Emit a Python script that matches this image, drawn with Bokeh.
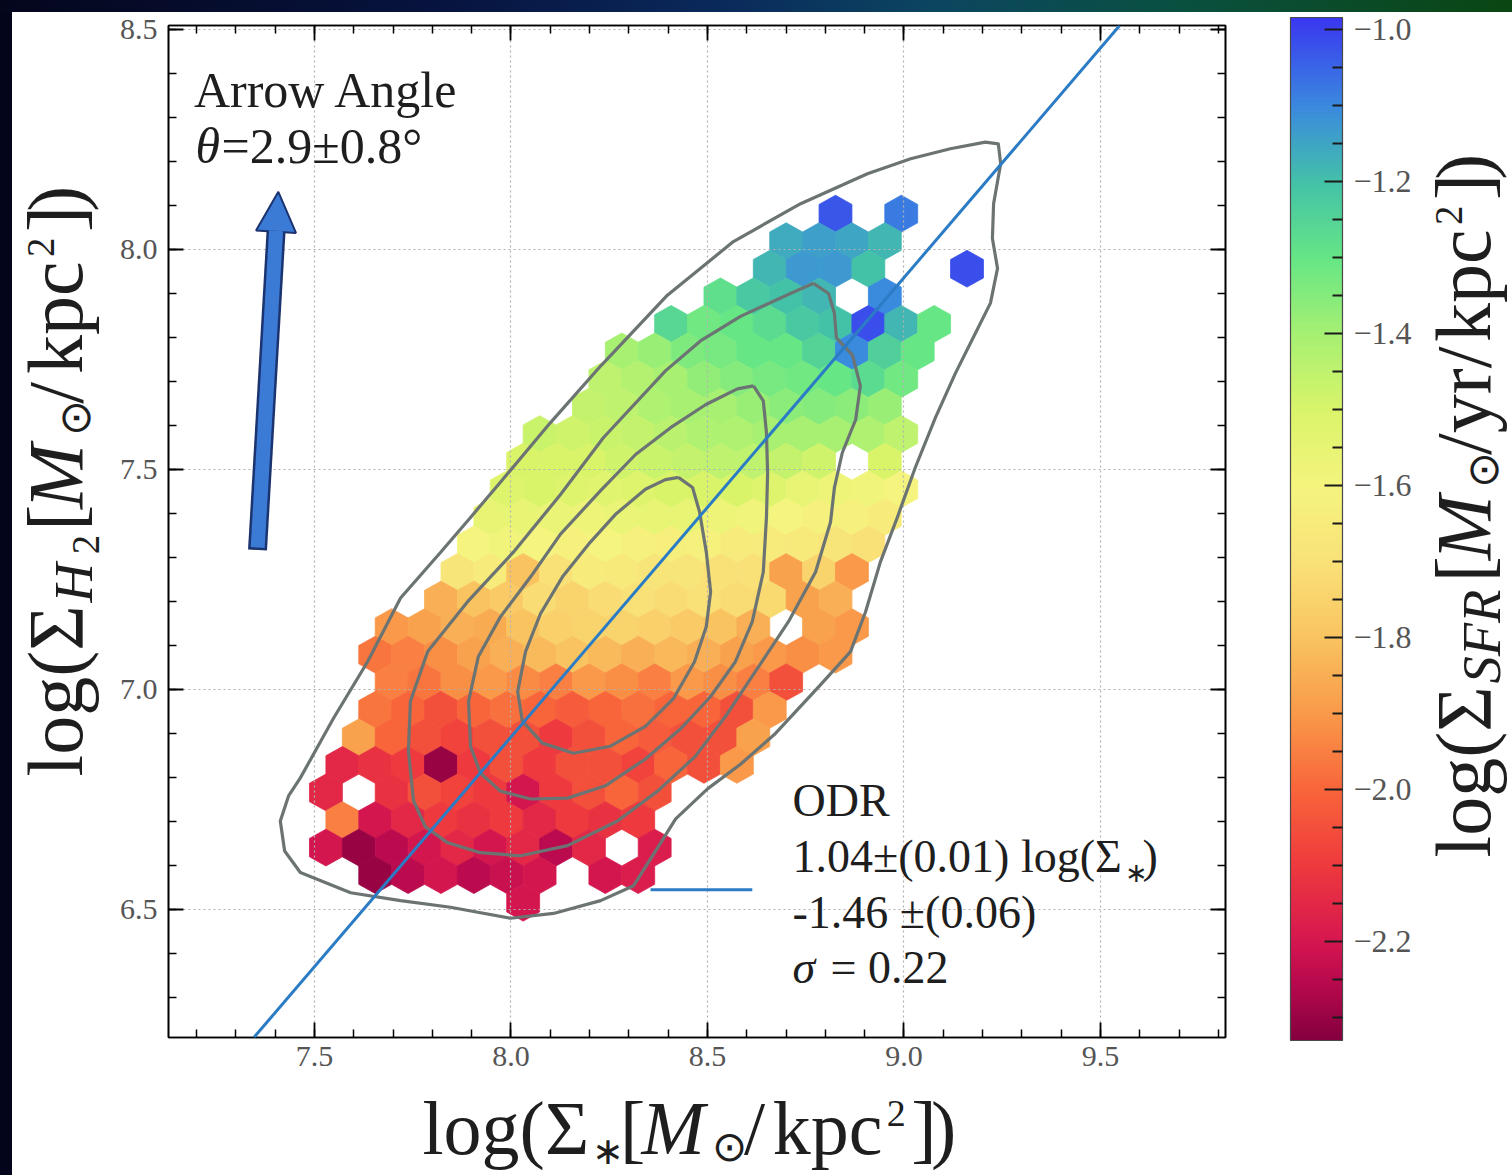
import numpy as np
from bokeh.plotting import figure
from bokeh.models import (Range1d, LinearAxis, SingleIntervalTicker, FixedTicker, ColorBar,
                          LinearColorMapper, Label, Arrow, NormalHead, Slope, Div,
                          ColumnDataSource, PrintfTickFormatter, CustomJSTickFormatter)
from bokeh.layouts import column, row
from bokeh.transform import linear_cmap
from bokeh.embed import file_html
from bokeh.resources import INLINE

# ---------------------------------------------------------------- axes
X_RANGE = (7.1285, 9.8181)          # log Sigma_* extent
Y_RANGE = (6.209, 8.509)            # log Sigma_H2 extent
MAJOR_STEP = 0.5

# ---------------------------------------------------------------- colour scale (log Sigma_SFR)
CB_LOW, CB_HIGH = -2.33, -0.984
CB_TICKS = [-2.2, -2.0, -1.8, -1.6, -1.4, -1.2, -1.0]
CB_MINOR = [-2.3, -2.25, -2.15, -2.1, -2.05, -1.95, -1.9, -1.85, -1.75, -1.7, -1.65,
            -1.55, -1.5, -1.45, -1.35, -1.3, -1.25, -1.15, -1.1, -1.05]
CMAP_STOPS = [(-2.33, "#86003f"), (-2.25, "#bc0a4e"), (-2.2, "#d6174f"), (-2.1, "#ef3a3d"),
              (-2.0, "#f8663a"), (-1.9, "#f99a49"), (-1.8, "#f9c460"), (-1.7, "#f9e278"),
              (-1.6, "#f5f47e"), (-1.5, "#daf46a"), (-1.4, "#a6f072"), (-1.3, "#66e685"),
              (-1.2, "#44c2a8"), (-1.1, "#3a8ade"), (-0.984, "#3a38f0")]

# ---------------------------------------------------------------- ODR fit
ODR_SLOPE, ODR_SLOPE_ERR = 1.044, 0.01
ODR_INTERCEPT, ODR_INTERCEPT_ERR = -1.46, 0.06
ODR_SCATTER = 0.22
ODR_HANDLE_X = [8.355, 8.614]
ODR_HANDLE_Y = [6.545, 6.545]

# ---------------------------------------------------------------- mean gradient arrow
ARROW_THETA, ARROW_THETA_ERR = 2.9, 0.8
ARROW_TAIL = (7.355, 7.317)
ARROW_TIP = (7.408, 8.131)

# ---------------------------------------------------------------- hexbin map of mean log Sigma_SFR
HEX_ROW_STEP = 0.062647     # vertical distance between hex rows
HEX_COL_STEP = 0.083656     # hex width (flat to flat)
HEX_TOP_ROW = 129           # axial row of the first listed row
# (row from top, first column, mean log Sigma_SFR per cell; None = empty cell)
HEX_ROWS = [
    (0, 105, [-1.03, None, -1.08]),
    (1, 104, [-1.16, -1.14, -1.15, -1.18]),
    (2, 103, [-1.18, -1.13, -1.13, -1.20, None, None, -1.02]),
    (3, 102, [-1.28, -1.22, -1.20, -1.18, None, -1.10]),
    (4, 100, [-1.26, -1.32, -1.30, -1.27, -1.22, -1.20, -1.02, -1.18, -1.30]),
    (5, 99, [-1.40, -1.38, -1.34, -1.33, -1.30, -1.30, -1.25, -1.10, -1.24, -1.30]),
    (6, 98, [-1.45, -1.43, -1.40, -1.37, -1.35, -1.33, -1.32, -1.30, -1.27, -1.32]),
    (7, 98, [-1.46, -1.45, -1.42, -1.40, -1.40, -1.38, -1.36, -1.35, -1.36, -1.38]),
    (8, 96, [-1.47, -1.48, -1.47, -1.46, -1.44, -1.42, -1.42, -1.40, -1.40, -1.40, -1.42, -1.45]),
    (9, 96, [-1.50, -1.50, -1.50, -1.48, -1.47, -1.46, -1.45, -1.45, -1.46, -1.48, None, -1.50]),
    (10, 95, [-1.52, -1.50, -1.52, -1.53, -1.52, -1.50, -1.50, -1.50, -1.52, -1.55, -1.57, -1.58, -1.60]),
    (11, 95, [-1.55, -1.55, -1.56, -1.57, -1.56, -1.55, -1.55, -1.57, -1.58, -1.60, -1.62, -1.62, -1.65]),
    (12, 94, [-1.60, -1.58, -1.60, -1.62, -1.60, -1.62, -1.63, -1.62, -1.65, -1.65, -1.66, -1.68, -1.70]),
    (13, 94, [-1.68, -1.65, -1.80, -1.70, -1.65, -1.66, -1.68, -1.68, -1.70, -1.70, -1.88, -1.75, -1.90]),
    (14, 93, [-1.85, -1.80, -1.78, -1.72, -1.75, -1.72, -1.70, -1.72, -1.70, -1.72, -1.73, -1.88, -1.85]),
    (15, 92, [-1.90, -1.88, -1.85, -1.86, -1.80, -1.76, -1.75, -1.75, -1.76, -1.78, -1.80, -1.85, None, -1.88, -1.90]),
    (16, 91, [-1.97, -1.95, -1.92, -1.88, -1.85, -1.82, -1.80, -1.82, -1.85, -1.83, -1.85, -1.88, -1.90, -1.92, -1.90]),
    (17, 92, [-1.95, -1.97, -1.92, -1.90, -1.93, -1.95, -1.90, -1.92, -1.95, -1.90, -1.92, -1.95, -2.05]),
    (18, 91, [-1.97, -2.00, -2.05, -2.00, -1.98, -2.00, -2.02, -2.00, -1.98, -2.00, -2.00, -2.05, -1.90]),
    (19, 91, [-1.88, -2.00, -2.05, -2.08, -2.05, -2.05, -2.10, -2.05, -2.00, -2.02, -2.05, -2.05, -1.88]),
    (20, 90, [-2.15, -2.12, -2.10, -2.30, -2.10, -2.05, -2.10, -2.05, -2.05, -2.08, -2.00, -2.05, -1.90]),
    (21, 90, [-2.15, None, -2.12, -2.05, -2.08, -2.10, -2.20, -2.10, -2.05, -2.00, -2.05]),
    (22, 90, [-1.95, -2.20, -2.15, -2.10, -2.12, -2.10, -2.15, -2.10, -2.12, -2.10]),
    (23, 90, [-2.20, -2.30, -2.25, -2.20, -2.15, -2.20, -2.15, -2.25, -2.15, None, -2.18]),
    (24, 91, [-2.30, -2.25, -2.20, -2.25, -2.22, -2.20, None, -2.20, -2.18]),
    (25, 96, [-2.20]),
]

# ---------------------------------------------------------------- density contours
CONTOUR_1_X = [7.821, 7.897, 7.973, 8.100, 8.228, 8.398, 8.566, 8.737, 8.907, 9.017, 9.118, 9.207,
               9.240, 9.246, 9.228, 9.225, 9.238, 9.220, 9.182, 9.131, 9.080, 9.029, 8.983, 8.940,
               8.902, 8.864, 8.788, 8.673, 8.584, 8.500, 8.419, 8.368, 8.312, 8.228, 8.108, 7.999,
               7.846, 7.719, 7.592, 7.464, 7.424, 7.413, 7.434, 7.464, 7.548, 7.635, 7.719, 7.821]
CONTOUR_1_Y = [7.312, 7.391, 7.471, 7.606, 7.735, 7.896, 8.018, 8.104, 8.172, 8.206, 8.229, 8.244,
               8.240, 8.195, 8.104, 8.025, 7.957, 7.878, 7.810, 7.719, 7.618, 7.505, 7.391, 7.290,
               7.176, 7.086, 7.011, 6.900, 6.830, 6.774, 6.706, 6.633, 6.554, 6.520, 6.491, 6.480,
               6.505, 6.520, 6.538, 6.584, 6.633, 6.701, 6.758, 6.799, 6.934, 7.063, 7.208, 7.312]
CONTOUR_2_X = [8.770, 8.808, 8.823, 8.828, 8.869, 8.889, 8.877, 8.843, 8.823, 8.813, 8.775, 8.706,
               8.622, 8.546, 8.469, 8.373, 8.271, 8.144, 8.024, 7.922, 7.838, 7.782, 7.752, 7.739,
               7.744, 7.788, 7.889, 8.006, 8.126, 8.235, 8.393, 8.482, 8.584, 8.711, 8.770]
CONTOUR_2_Y = [7.923, 7.900, 7.855, 7.799, 7.760, 7.690, 7.613, 7.538, 7.459, 7.380, 7.267, 7.154,
               7.041, 6.939, 6.848, 6.769, 6.701, 6.645, 6.622, 6.629, 6.652, 6.688, 6.747, 6.860,
               6.973, 7.086, 7.199, 7.312, 7.443, 7.572, 7.724, 7.792, 7.848, 7.900, 7.923]
CONTOUR_3_X = [8.617, 8.642, 8.650, 8.653, 8.650, 8.642, 8.614, 8.571, 8.508, 8.431, 8.342, 8.240,
               8.144, 8.050, 7.973, 7.922, 7.897, 7.892, 7.917, 7.973, 8.050, 8.126, 8.228, 8.317,
               8.406, 8.495, 8.576, 8.617]
CONTOUR_3_Y = [7.690, 7.656, 7.584, 7.493, 7.391, 7.267, 7.154, 7.063, 6.984, 6.910, 6.842, 6.781,
               6.753, 6.751, 6.769, 6.810, 6.871, 6.973, 7.075, 7.165, 7.256, 7.353, 7.452, 7.534,
               7.595, 7.647, 7.683, 7.690]
CONTOUR_4_X = [8.426, 8.462, 8.480, 8.497, 8.508, 8.497, 8.467, 8.414, 8.342, 8.253, 8.159, 8.080,
               8.029, 8.017, 8.037, 8.075, 8.131, 8.202, 8.266, 8.342, 8.393, 8.426]
CONTOUR_4_Y = [7.482, 7.459, 7.403, 7.312, 7.222, 7.143, 7.063, 6.980, 6.916, 6.871, 6.855, 6.878,
               6.928, 6.995, 7.086, 7.172, 7.256, 7.335, 7.398, 7.455, 7.477, 7.482]

# ---------------------------------------------------------------- style
SERIF = "Liberation Serif"
TEXT = "#1e1e1e"
TICK_TEXT = "#555555"
FIT_BLUE = "#2b7cc4"
CONTOUR_GREY = "#6c7473"
ARROW_FILL = "#3b7bd6"
ARROW_EDGE = "#1b336e"
EDGE_DARK = "#03051a"

# page geometry (pixels): dark edge strips, side title panels and the main plot
EDGE = 12
PAGE_W, PAGE_H = 1512, 1175
LEFT_W = 98                     # y-axis title panel
MAIN_X0 = EDGE + LEFT_W
MAIN_W, MAIN_H = 1310, 1071
RIGHT_X0 = MAIN_X0 + MAIN_W     # colour-bar title panel
RIGHT_W = PAGE_W - RIGHT_X0
BOTTOM_Y0 = EDGE + MAIN_H       # x-axis title panel
BOTTOM_H = PAGE_H - BOTTOM_Y0
FRAME_W, FRAME_H = 1057, 1012
FRAME_LEFT_PAGE, FRAME_TOP_PAGE = 168, 25
FRAME_BOTTOM_PAGE = FRAME_TOP_PAGE + FRAME_H
BASELINE_FIX = 0.34             # alphabetic baseline correction for Label text (fraction of size)


def hex_to_rgb(h):
    return np.array([int(h[i:i + 2], 16) for i in (1, 3, 5)], dtype=float)


def build_palette(n=256):
    vals = np.linspace(CB_LOW, CB_HIGH, n)
    sv = np.array([s[0] for s in CMAP_STOPS])
    sc = np.array([hex_to_rgb(s[1]) for s in CMAP_STOPS])
    out = []
    for v in vals:
        rgb = [np.interp(v, sv, sc[:, c]) for c in range(3)]
        out.append("#%02x%02x%02x" % tuple(int(round(c)) for c in rgb))
    return out


PALETTE = build_palette()

border_l = FRAME_LEFT_PAGE - MAIN_X0
border_t = FRAME_TOP_PAGE - EDGE
p = figure(x_range=Range1d(*X_RANGE), y_range=Range1d(*Y_RANGE),
           width=MAIN_W, height=MAIN_H,
           min_border_left=border_l, min_border_right=MAIN_W - border_l - FRAME_W,
           min_border_top=border_t, min_border_bottom=MAIN_H - border_t - FRAME_H,
           output_backend="svg", toolbar_location=None, align="start",
           background_fill_color="white", border_fill_color="white")
p.outline_line_color = "black"
p.outline_line_width = 1.6

xticker = SingleIntervalTicker(interval=MAJOR_STEP, num_minor_ticks=5)
yticker = SingleIntervalTicker(interval=MAJOR_STEP, num_minor_ticks=5)


def style_axis(ax, ticker, labels=True):
    ax.ticker = ticker
    ax.axis_line_color = "black"
    ax.axis_line_width = 1.6
    ax.major_tick_in = 15
    ax.major_tick_out = 0
    ax.minor_tick_in = 8
    ax.minor_tick_out = 0
    ax.major_tick_line_color = "black"
    ax.minor_tick_line_color = "black"
    ax.major_tick_line_width = 1.8
    ax.minor_tick_line_width = 1.5
    if labels:
        ax.formatter = PrintfTickFormatter(format="%.1f")
        ax.major_label_text_font = SERIF
        ax.major_label_text_font_size = "30px"
        ax.major_label_text_color = TICK_TEXT
    else:
        ax.formatter = CustomJSTickFormatter(code="return '';")
        ax.major_label_text_font_size = "8px"
        ax.major_label_standoff = 0


style_axis(p.xaxis[0], xticker)
style_axis(p.yaxis[0], yticker)
p.xaxis[0].major_label_standoff = 9
p.yaxis[0].major_label_standoff = 11
top_axis = LinearAxis()
right_axis = LinearAxis()
style_axis(top_axis, xticker, labels=False)
style_axis(right_axis, yticker, labels=False)
p.add_layout(top_axis, "above")
p.add_layout(right_axis, "right")

for g, t in ((p.xgrid[0], xticker), (p.ygrid[0], yticker)):
    g.ticker = t
    g.grid_line_color = "#b2b2b2"
    g.grid_line_dash = "2 3"
    g.grid_line_width = 1.2

# hexbin cells, drawn beneath the grid
qs, rs, vs = [], [], []
for k, u0, vals in HEX_ROWS:
    r = k - HEX_TOP_ROW
    for i, v in enumerate(vals):
        if v is None:
            continue
        qs.append(u0 + i - (r // 2))
        rs.append(r)
        vs.append(v)
hex_src = ColumnDataSource(dict(q=qs, r=rs, v=vs))
hex_size = HEX_ROW_STEP / 1.5
hex_aspect = np.sqrt(3) * hex_size / HEX_COL_STEP
cmap = linear_cmap("v", PALETTE, CB_LOW, CB_HIGH)
p.hex_tile(q="q", r="r", size=hex_size, aspect_scale=hex_aspect, orientation="pointytop",
           source=hex_src, fill_color=cmap, line_color=cmap, line_width=0.8, level="image")

# density contours
p.multi_line(xs=[CONTOUR_1_X, CONTOUR_2_X, CONTOUR_3_X, CONTOUR_4_X],
             ys=[CONTOUR_1_Y, CONTOUR_2_Y, CONTOUR_3_Y, CONTOUR_4_Y],
             line_color=CONTOUR_GREY, line_width=3.2, line_join="round")

# ODR fit and its legend sample
p.add_layout(Slope(gradient=ODR_SLOPE, y_intercept=ODR_INTERCEPT, line_color=FIT_BLUE, line_width=3))
p.line(ODR_HANDLE_X, ODR_HANDLE_Y, line_color=FIT_BLUE, line_width=3)

# gradient arrow: dark outline shaft + head, lighter core
px_per_x = FRAME_W / (X_RANGE[1] - X_RANGE[0])
px_per_y = FRAME_H / (Y_RANGE[1] - Y_RANGE[0])
dxp = (ARROW_TIP[0] - ARROW_TAIL[0]) * px_per_x
dyp = (ARROW_TIP[1] - ARROW_TAIL[1]) * px_per_y
alen = np.hypot(dxp, dyp)
ux, uy = dxp / alen, dyp / alen
HEAD = 40
p.add_layout(Arrow(end=NormalHead(size=HEAD, fill_color=ARROW_FILL, line_color=ARROW_EDGE, line_width=2),
                   x_start=ARROW_TAIL[0], y_start=ARROW_TAIL[1], x_end=ARROW_TIP[0], y_end=ARROW_TIP[1],
                   line_color=ARROW_EDGE, line_width=19))
p.add_layout(Arrow(end=None,
                   x_start=ARROW_TAIL[0] + 2.5 * ux / px_per_x, y_start=ARROW_TAIL[1] + 2.5 * uy / px_per_y,
                   x_end=ARROW_TIP[0] - (HEAD - 1) * ux / px_per_x, y_end=ARROW_TIP[1] - (HEAD - 1) * uy / px_per_y,
                   line_color=ARROW_FILL, line_width=14))

# colour bar
mapper = LinearColorMapper(palette=PALETTE, low=CB_LOW, high=CB_HIGH)
cbar = ColorBar(color_mapper=mapper, ticker=FixedTicker(ticks=CB_TICKS, minor_ticks=CB_MINOR),
                formatter=CustomJSTickFormatter(code="return (tick < 0 ? '\\u2212' : '') + Math.abs(tick).toFixed(1);"),
                width=52, height=1023, location=(65, -3), padding=0, margin=0,
                label_standoff=11, major_tick_in=18, major_tick_out=0, minor_tick_in=10, minor_tick_out=0,
                major_tick_line_color="#1a1a1a", major_tick_line_width=2,
                minor_tick_line_color="#1a1a1a", minor_tick_line_width=2,
                bar_line_color="#4a4a4a", bar_line_width=1.2,
                major_label_text_font=SERIF, major_label_text_font_size="32px",
                major_label_text_color=TICK_TEXT,
                background_fill_color=None, border_line_color=None)
p.add_layout(cbar, "right")


def text_panel(width, height):
    f = figure(width=width, height=height, x_range=Range1d(0, 1), y_range=Range1d(0, 1),
               min_border=0, x_axis_location=None, y_axis_location=None,
               output_backend="svg", toolbar_location=None, align="start",
               background_fill_color="white", border_fill_color="white")
    f.grid.visible = False
    f.outline_line_color = None
    return f


left_panel = text_panel(LEFT_W, MAIN_H)
right_panel = text_panel(RIGHT_W, MAIN_H)
bottom_panel = text_panel(PAGE_W - EDGE, BOTTOM_H)

# page position of each canvas's bottom-left corner, for placing text
ORIGINS = {
    "main": (FRAME_LEFT_PAGE, FRAME_BOTTOM_PAGE),
    "left": (EDGE, BOTTOM_Y0),
    "right": (RIGHT_X0, BOTTOM_Y0),
    "bottom": (EDGE, PAGE_H),
}
TARGETS = {"main": p, "left": left_panel, "right": right_panel, "bottom": bottom_panel}


def put_text(where, text, X, Y, size, style="normal", align="left", angle=0.0, color=TEXT):
    """Place text with its alphabetic baseline starting at page point (X, Y)."""
    ox, oy = ORIGINS[where]
    if angle == 0.0:
        Y = Y - BASELINE_FIX * size
    else:
        X = X - BASELINE_FIX * size
    TARGETS[where].add_layout(Label(x=X - ox, y=oy - Y, x_units="screen", y_units="screen",
                                    text=text, text_font=SERIF, text_font_size=f"{size:.1f}px",
                                    text_font_style=style, text_color=color, text_align=align,
                                    text_baseline="alphabetic", angle=angle))


def put_rich(where, pieces, X, Y, size, angle=0.0):
    pos = 0.0
    for text, style, scale, shift, adv in pieces:
        if angle == 0.0:
            px, py = X + pos, Y + shift * size
        else:
            px, py = X + shift * size, Y - pos
        put_text(where, text, px, py, size * scale, style=style, angle=angle)
        pos += adv * size


SUB, SUP = 0.12, -0.36
X_TITLE = [("log(\u03a3", "normal", 1.0, 0.0, 2.23), ("\u2217", "normal", 0.5, 0.14, 0.37),
           ("[", "normal", 1.0, 0.0, 0.28), ("M", "italic", 1.0, 0.0, 0.93),
           ("\u2299", "normal", 0.55, 0.10, 0.42), ("/", "normal", 1.0, 0.0, 0.38),
           ("kpc", "normal", 1.0, 0.0, 1.50), ("2", "normal", 0.5, SUP, 0.32),
           ("]", "normal", 1.0, 0.0, 0.26), (")", "normal", 1.0, 0.0, 0.3)]
Y_TITLE = [("log(\u03a3", "normal", 1.0, 0.0, 2.23), ("H", "italic", 0.7, SUB, 0.62),
           ("2", "normal", 0.5, 0.22, 0.30), ("[", "normal", 1.0, 0.0, 0.28),
           ("M", "italic", 1.0, 0.0, 0.93), ("\u2299", "normal", 0.55, 0.10, 0.42),
           ("/", "normal", 1.0, 0.0, 0.38), ("kpc", "normal", 1.0, 0.0, 1.50),
           ("2", "normal", 0.5, SUP, 0.32), ("]", "normal", 1.0, 0.0, 0.26),
           (")", "normal", 1.0, 0.0, 0.3)]
CB_TITLE = [("log(\u03a3", "normal", 1.0, 0.0, 2.23), ("SFR", "italic", 0.7, SUB, 1.30),
            ("[", "normal", 1.0, 0.0, 0.28), ("M", "italic", 1.0, 0.0, 0.93),
            ("\u2299", "normal", 0.55, 0.10, 0.42), ("/yr/", "normal", 1.0, 0.0, 1.45),
            ("kpc", "normal", 1.0, 0.0, 1.50), ("2", "normal", 0.5, SUP, 0.32),
            ("]", "normal", 1.0, 0.0, 0.26), (")", "normal", 1.0, 0.0, 0.3)]

put_rich("bottom", X_TITLE, 422, 1153, 76)
put_rich("left", Y_TITLE, 82, 822, 78, angle=np.pi / 2)
put_rich("right", CB_TITLE, 1490, 903, 78, angle=np.pi / 2)

# arrow annotation
put_text("main", "Arrow Angle", 326, 106, 50, align="center")
put_text("main", "\u03b8", 195, 162, 50, style="italic")
put_text("main", f"={ARROW_THETA}\u00b1{ARROW_THETA_ERR}\u00b0", 221, 162, 50)

# ODR legend text
ODR_SIZE = 46
put_text("main", "ODR", 792, 816, ODR_SIZE)
put_text("main", f"{ODR_SLOPE:.2f}\u00b1({ODR_SLOPE_ERR:.2f}) log(\u03a3", 792, 872, ODR_SIZE)
put_text("main", "\u2217", 1124, 882, 27)
put_text("main", ")", 1142, 872, ODR_SIZE)
put_text("main", f"{ODR_INTERCEPT:.2f} \u00b1({ODR_INTERCEPT_ERR:.2f})", 792, 928, ODR_SIZE)
put_text("main", "\u03c3", 792, 983, ODR_SIZE, style="italic")
put_text("main", f"= {ODR_SCATTER:.2f}", 830, 983, ODR_SIZE)


# page frame: dark strips on the top and left edges
def band(width, height, bg):
    return Div(text="", width=width, height=height, margin=0, align="start", styles={"background": bg})


top_band = band(PAGE_W, EDGE, "linear-gradient(90deg, #04061c 0%, #071440 30%, #0a2a5c 48%, "
                              "#0b4660 62%, #0a5040 78%, #0a4612 100%)")
layout = column(top_band,
                row(band(EDGE, MAIN_H, EDGE_DARK), left_panel, p, right_panel, spacing=0),
                row(band(EDGE, BOTTOM_H, EDGE_DARK), bottom_panel, spacing=0),
                spacing=0)

open("out.html", "w").write(file_html(layout, INLINE))
